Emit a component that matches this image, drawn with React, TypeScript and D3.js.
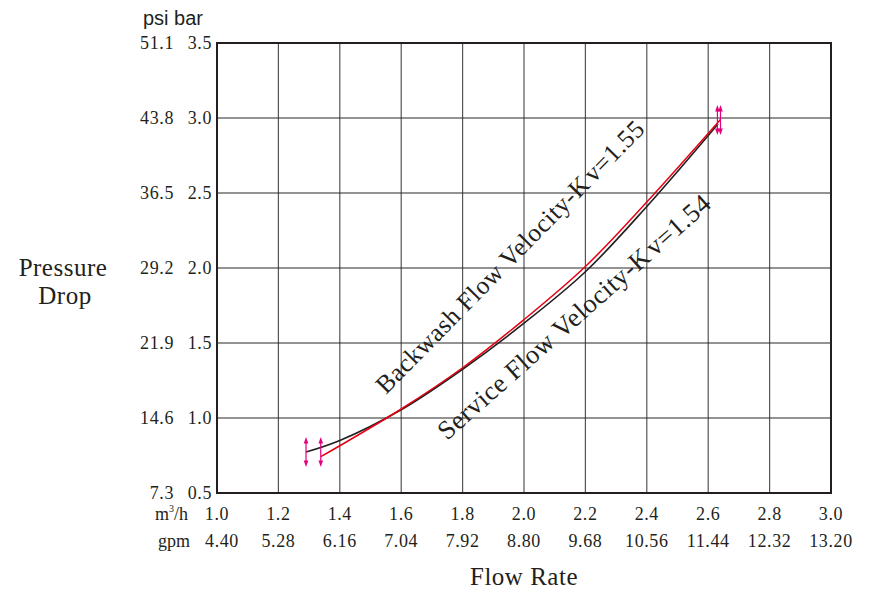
import React from "react";
import * as d3 from "d3";

const flowM3h = [1.0, 1.2, 1.4, 1.6, 1.8, 2.0, 2.2, 2.4, 2.6, 2.8, 3.0];
const flowM3hLabels = ["1.0", "1.2", "1.4", "1.6", "1.8", "2.0", "2.2", "2.4", "2.6", "2.8", "3.0"];
const flowGpmLabels = ["4.40", "5.28", "6.16", "7.04", "7.92", "8.80", "9.68", "10.56", "11.44", "12.32", "13.20"];
const pressureBar = [0.5, 1.0, 1.5, 2.0, 2.5, 3.0, 3.5];
const pressureBarLabels = ["0.5", "1.0", "1.5", "2.0", "2.5", "3.0", "3.5"];
const pressurePsiLabels = ["7.3", "14.6", "21.9", "29.2", "36.5", "43.8", "51.1"];

// Backwash (red) curve: flow m3/h, pressure bar
const backwashQ = [1.338, 1.4, 1.6, 1.8, 2.0, 2.2, 2.4, 2.64];
const backwashP = [0.742, 0.815, 1.06, 1.335, 1.656, 2.01, 2.44, 2.99];
// Service (black) curve
const serviceQ = [1.29, 1.4, 1.6, 1.8, 2.0, 2.2, 2.4, 2.632];
const serviceP = [0.773, 0.85, 1.055, 1.325, 1.632, 1.975, 2.41, 2.96];

// double-headed arrows (flow, low bar, high bar)
const arrowQ = [1.29, 1.338, 2.63, 2.64];
const arrowLo = [0.673, 0.673, 2.887, 2.887];
const arrowHi = [0.873, 0.873, 3.087, 3.087];

const backwashLabel = ["Backwash Flow Velocity-K", "v=1.55"];
const serviceLabel = ["Service Flow Velocity-K", "v=1.54"];

export default function App() {
  const W = 877, H = 592;
  const x = d3.scaleLinear().domain([1.0, 3.0]).range([217, 831]);
  const y = d3.scaleLinear().domain([0.5, 3.5]).range([493, 43]);
  const line = d3
    .line<[number, number]>()
    .x((d) => x(d[0]))
    .y((d) => y(d[1]))
    .curve(d3.curveCatmullRom.alpha(0.5));
  const backwash = line(backwashQ.map((q, i) => [q, backwashP[i]] as [number, number])) || "";
  const service = line(serviceQ.map((q, i) => [q, serviceP[i]] as [number, number])) || "";
  const serif = "'Liberation Serif', 'Times New Roman', serif";
  const sans = "'Liberation Sans', Arial, sans-serif";
  const magenta = "#e4007f";
  const dark = "#231f20";

  return (
    <svg
      width={W}
      height={H}
      style={{ position: "absolute", left: 0, top: 0, background: "#fff" }}
    >
      {/* vertical grid */}
      {flowM3h.slice(1, -1).map((q, i) => (
        <line key={"vg" + i} x1={x(q)} x2={x(q)} y1={y(3.5)} y2={y(0.5)} stroke="#555" strokeWidth={1.2} />
      ))}
      {/* horizontal grid */}
      {pressureBar.slice(1, -1).map((p, i) => (
        <line key={"hg" + i} x1={x(1.0)} x2={x(3.0)} y1={y(p)} y2={y(p)} stroke="#2a2627" strokeWidth={1.2} />
      ))}
      <rect x={x(1.0)} y={y(3.5)} width={x(3.0) - x(1.0)} height={y(0.5) - y(3.5)} fill="none" stroke={dark} strokeWidth={2} />

      {/* curves */}
      <path d={service} fill="none" stroke={dark} strokeWidth={1.6} />
      <path d={backwash} fill="none" stroke="#e60012" strokeWidth={1.5} />

      {/* arrows */}
      {arrowQ.map((q, i) => {
        const ax = x(q);
        const y1 = y(arrowHi[i]);
        const y2 = y(arrowLo[i]);
        return (
          <g key={"ar" + i}>
            <line x1={ax} x2={ax} y1={y1 + 4} y2={y2 - 4} stroke={magenta} strokeWidth={1.2} />
            <path d={`M${ax},${y1} L${ax - 2.3},${y1 + 6.5} L${ax + 2.3},${y1 + 6.5} Z`} fill={magenta} />
            <path d={`M${ax},${y2} L${ax - 2.3},${y2 - 6.5} L${ax + 2.3},${y2 - 6.5} Z`} fill={magenta} />
          </g>
        );
      })}

      {/* curve labels */}
      <text
        transform={`translate(386,395) rotate(-45.5)`}
        fontFamily={serif}
        fontSize={25.5}
        letterSpacing={0.5}
        fill={dark}
      >
        {backwashLabel[0]}
        <tspan dx={3}>{backwashLabel[1]}</tspan>
      </text>
      <text
        transform={`translate(447,441) rotate(-41.5)`}
        fontFamily={serif}
        fontSize={26.5}
        letterSpacing={0.5}
        fill={dark}
      >
        {serviceLabel[0]}
        <tspan dx={3}>{serviceLabel[1]}</tspan>
      </text>

      {/* y tick labels */}
      {pressureBar.map((p, i) => (
        <g key={"yl" + i} fontFamily={serif} fontSize={18} fill={dark}>
          <text x={212} y={y(p)} dy="0.35em" textAnchor="end" letterSpacing={0.6}>
            {pressureBarLabels[i]}
          </text>
          <text x={174} y={y(p)} dy="0.35em" textAnchor="end" letterSpacing={0.6}>
            {pressurePsiLabels[i]}
          </text>
        </g>
      ))}
      <text x={143} y={25} fontFamily={sans} fontSize={20} fill={dark}>
        psi bar
      </text>

      {/* x tick labels */}
      {flowM3h.map((q, i) => (
        <g key={"xl" + i} fontFamily={serif} fontSize={18} fill={dark} textAnchor="middle">
          <text x={x(q)} y={520} letterSpacing={0.6}>
            {flowM3hLabels[i]}
          </text>
          <text x={x(q) + (i === 0 ? 5 : 0)} y={547} letterSpacing={0.6}>
            {flowGpmLabels[i]}
          </text>
        </g>
      ))}
      <text x={155} y={520} fontFamily={serif} fontSize={18} fill={dark}>
        m<tspan fontSize={10} dy={-8}>3</tspan>
        <tspan dy={8}>/h</tspan>
      </text>
      <text x={158} y={547} fontFamily={serif} fontSize={18} fill={dark}>
        gpm
      </text>

      {/* axis titles */}
      <text x={524} y={585} textAnchor="middle" fontFamily={serif} fontSize={25} letterSpacing={0.5} fill={dark}>
        Flow Rate
      </text>
      <text x={63} y={276} textAnchor="middle" fontFamily={serif} fontSize={25} letterSpacing={0.5} fill={dark}>
        Pressure
      </text>
      <text x={65} y={304} textAnchor="middle" fontFamily={serif} fontSize={25} letterSpacing={0.5} fill={dark}>
        Drop
      </text>
    </svg>
  );
}
